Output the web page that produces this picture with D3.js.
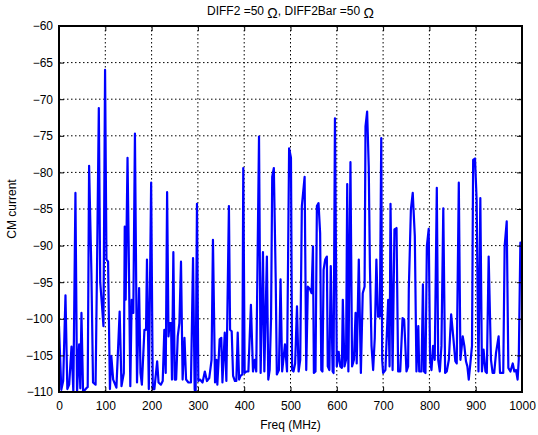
<!DOCTYPE html>
<meta charset="utf-8">
<style>
  body { margin: 0; background: #fff; }
  text { font-family: "Liberation Sans", Arial, sans-serif; fill: #000; }
  .line {
    fill: none;
    stroke: #0000ff;
    stroke-width: 2.2px;
    stroke-linejoin: round;
  }
  .grid line {
    stroke: #000;
    stroke-width: 1px;
    stroke-dasharray: 1.5,2.5;
  }
</style>
<body>
<script src="https://d3js.org/d3.v7.min.js"></script>
<script>

// frequency points (MHz)
var freq = [0, 5, 9, 14, 18, 22, 27, 31, 35.5, 39, 43.5, 46, 48.5, 52, 59, 62, 65, 70, 73.5, 79,
  82, 86, 89, 93, 96, 99.5, 102.5, 106, 110, 113, 117, 124, 131, 135, 140, 142, 144, 148, 150.5, 154,
  157, 160.5, 164, 168.5, 173, 176, 179, 184.5, 188, 190, 194, 199, 202.5, 206, 212, 215, 220, 224, 227.5, 230.5,
  233.5, 236.5, 239, 242, 244, 247, 250, 253, 256.5, 260, 263.5, 267, 271, 274.5, 279.5, 285, 289.5, 293, 295, 298,
  301, 304.5, 310, 315, 319.5, 324.5, 329.5, 332.5, 337, 340, 342, 347, 350.5, 353, 358, 361.5, 367, 369.5, 373, 376,
  380, 383, 386, 389, 392, 396, 398, 401, 405, 409, 414.5, 419, 423, 426, 432, 435.5, 440.5, 443.5, 449, 452,
  455, 458, 460.5, 464, 468, 470.5, 475, 478.5, 482, 488, 492.5, 497, 501, 503.5, 506.5, 510, 514, 517.5, 521, 524.5,
  530.5, 534, 537.5, 542.5, 545.5, 548.5, 550.5, 554, 557, 560.5, 564, 566.5, 569, 571.5, 575, 578.5, 580.5, 584, 587, 591,
  593, 596, 600, 604, 607.5, 611, 613, 616.5, 620, 622.5, 625, 629.5, 633, 637, 640.5, 643, 647.5, 652, 656, 660,
  662, 665.5, 669, 671.5, 675, 678.5, 682, 685.5, 689, 693, 696, 698, 700, 705, 711, 714, 716, 720.5, 724.5, 729,
  732.5, 737, 742, 745.5, 750.5, 754, 755.5, 760, 764, 768.5, 772, 776, 778, 783, 786, 788.5, 791.5, 794.5, 798.5, 801.5,
  804.5, 808, 811.5, 816, 819, 822.5, 826, 830, 834, 837.5, 842, 847, 852, 856, 859, 863.5, 867, 872, 875.5, 879,
  882, 885, 888.5, 892, 894.5, 898.5, 902, 906, 910, 913.5, 917, 921, 924, 928, 933, 936.5, 940, 944, 949.5, 952.5,
  959.5, 962.5, 967, 970.5, 975, 980, 983.5, 987, 990.5, 993, 996.5, 1000];

// CM current values
var cmCurrent = [-101, -109.7, -108.5, -96.8, -109.6, -109, -103.8, -110, -82.8, -110, -103.5, -109.5, -99.2, -110, -109.5, -109.3, -79.1, -93.7, -108.7, -109,
  -93.7, -71.2, -95, -98.3, -101, -66, -91.9, -92.2, -109.6, -105.1, -108.3, -109.4, -99, -109.2, -107.4, -87.4, -97.4, -78, -90.1, -109.2,
  -97.4, -99.2, -74.7, -108.7, -95.8, -107.4, -109, -101.5, -101.5, -91.9, -109.6, -81.4, -109.6, -109.6, -105.8, -108.7, -109, -108.5, -101.5, -107.4,
  -82.7, -102.4, -100.6, -100.6, -108.3, -90.9, -108.3, -108.3, -102.4, -100.6, -92.2, -108.3, -102.6, -108.3, -108.7, -108.7, -91.7, -109.6, -110.5, -84.3,
  -108.5, -108.3, -108.7, -107.2, -108.5, -108.1, -105.6, -89.2, -108.7, -105.6, -109, -102.8, -102.6, -108.7, -101.9, -108.5, -84.6, -101.5, -101.7, -107.8,
  -108.5, -108.5, -101.9, -108.3, -107.8, -107.6, -79.4, -107.4, -107.2, -107.2, -98.1, -107.2, -105.6, -107.2, -75.1, -107.4, -90.9, -107.2, -91.5, -108.3,
  -107, -99.9, -80.6, -79.4, -94.4, -107.6, -107, -94.6, -107.2, -103.5, -107.2, -76.7, -78, -107, -107.2, -106.1, -98.3, -107.2, -105.6, -84.6,
  -80.6, -107, -95.6, -96, -96.5, -90.1, -107.4, -107.2, -84.6, -84.2, -88.3, -107, -107.2, -93.3, -91.9, -91.5, -106.5, -107, -92.8, -107.2,
  -107.4, -72.6, -106.5, -104.5, -106.5, -106.7, -97.4, -106.5, -105.6, -81.6, -107.2, -78.6, -106.5, -105.6, -99.2, -106.1, -91.9, -107.4, -96.5, -95.6,
  -73.7, -71.7, -79.2, -92.8, -103.7, -107, -102.6, -91.9, -99.7, -99.7, -75.3, -105.6, -107.4, -107, -97.4, -106.5, -84.3, -107, -87.8, -87.6,
  -107.2, -107.2, -99.9, -100.1, -107.2, -106.5, -96, -85.1, -82.8, -88.7, -107.2, -101, -107.2, -107.2, -95.3, -107.2, -107.4, -90.1, -87.7, -105.6,
  -107, -103.7, -105.6, -82.1, -105.6, -107.2, -103.7, -84.9, -107.4, -107.2, -105.6, -99.4, -102.8, -105.8, -106.1, -81.4, -105.6, -102.4, -103.7, -105.8,
  -106.5, -108.3, -106.1, -103.7, -78.3, -78.1, -83.7, -107.2, -83.5, -107.2, -104.2, -107.2, -107.4, -91.5, -105.6, -107.4, -107.4, -104.6, -102.4, -107.4,
  -107.4, -90.1, -86.7, -106.7, -107.2, -106.1, -107.2, -107, -108.3, -105.6, -89.6, -91];

var xTicks = [0, 100, 200, 300, 400, 500, 600, 700, 800, 900, 1000];
var yTicks = [-60, -65, -70, -75, -80, -85, -90, -95, -100, -105, -110];

var data = freq.map(function(f, i) { return {f: f, v: cmCurrent[i]}; });

// dimensions
var W = 538, H = 435;
var margin = {top: 26, right: 16, bottom: 43, left: 59},
    width = W - margin.left - margin.right,
    height = H - margin.top - margin.bottom;

var x = d3.scaleLinear().domain([0, 1000]).range([0, width]);
var y = d3.scaleLinear().domain([-110, -60]).range([height, 0]);

var svg = d3.select("body").append("svg")
    .attr("width", W)
    .attr("height", H)
  .append("g")
    .attr("transform", "translate(" + margin.left + "," + margin.top + ")");

svg.append("clipPath").attr("id", "clip")
  .append("rect").attr("width", width).attr("height", height);

// dotted grid
var grid = svg.append("g").attr("class", "grid");
grid.selectAll(".gx").data(xTicks.slice(1, -1)).enter().append("line")
    .attr("x1", function(d) { return x(d); }).attr("x2", function(d) { return x(d); })
    .attr("y1", 0).attr("y2", height);
grid.selectAll(".gy").data(yTicks.slice(1, -1)).enter().append("line")
    .attr("y1", function(d) { return y(d); }).attr("y2", function(d) { return y(d); })
    .attr("x1", 0).attr("x2", width);

// the spectrum
var valueline = d3.line()
    .x(function(d) { return x(d.f); })
    .y(function(d) { return y(d.v); });

svg.append("path")
    .datum(data)
    .attr("class", "line")
    .attr("clip-path", "url(#clip)")
    .attr("d", valueline);

// axes with inward ticks, matlab style
var fmt = d3.format("d");
var xAxis = svg.append("g")
    .attr("transform", "translate(0," + height + ")")
    .call(d3.axisBottom(x).tickValues(xTicks).tickFormat(fmt).tickSizeInner(-5).tickSizeOuter(0).tickPadding(9));
var yAxis = svg.append("g")
    .call(d3.axisLeft(y).tickValues(yTicks).tickFormat(fmt).tickSizeInner(-5).tickSizeOuter(0).tickPadding(9));
svg.append("g")
    .call(d3.axisTop(x).tickValues(xTicks).tickSizeInner(-5).tickSizeOuter(0).tickFormat(""));
svg.append("g")
    .attr("transform", "translate(" + width + ",0)")
    .call(d3.axisRight(y).tickValues(yTicks).tickSizeInner(-5).tickSizeOuter(0).tickFormat(""));

svg.selectAll(".domain").remove();
svg.selectAll(".tick line").attr("stroke", "#000").attr("stroke-width", 1);
svg.selectAll(".tick text").style("font-size", "12px").attr("fill", "#000");
yAxis.selectAll(".tick text").attr("dx", "3");

// frame
svg.append("rect")
    .attr("width", width).attr("height", height)
    .attr("fill", "none").attr("stroke", "#000").attr("stroke-width", 2);

// labels
svg.append("text")
    .attr("x", width / 2).attr("y", height + 37)
    .attr("text-anchor", "middle").style("font-size", "12px")
    .text("Freq (MHz)");

svg.append("text")
    .attr("transform", "rotate(-90)")
    .attr("x", -height / 2).attr("y", -43)
    .attr("text-anchor", "middle").style("font-size", "12px")
    .text("CM current");

var title = svg.append("text")
    .attr("x", width / 2).attr("y", -11)
    .attr("text-anchor", "middle").style("font-size", "12px");
title.append("tspan").text("DIFF2 =50 ");
title.append("tspan").attr("dy", 3).style("font-size", "14px").text("Ω");
title.append("tspan").attr("dy", -3).text(", DIFF2Bar =50 ");
title.append("tspan").attr("dy", 3).style("font-size", "14px").text("Ω");

</script>
</body>
